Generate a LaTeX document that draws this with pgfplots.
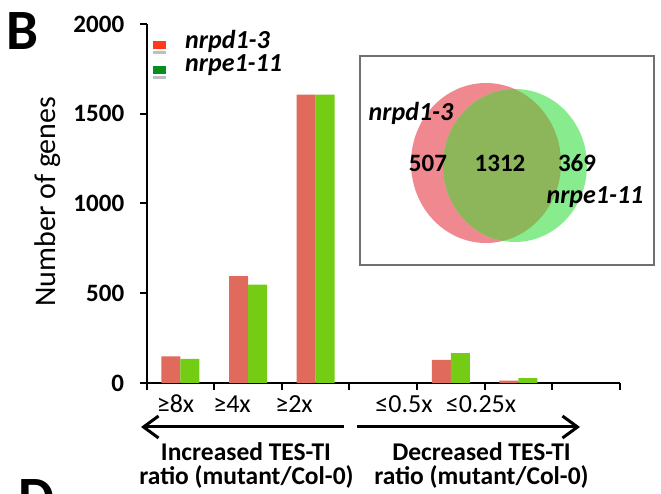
\documentclass[border=0pt]{standalone}
\usepackage{pgfplots}
\pgfplotsset{compat=1.18}
\usepackage{fontspec}
\setmainfont{Carlito}
\usetikzlibrary{arrows.meta}
\definecolor{barred}{HTML}{E06A5C}
\definecolor{bargreen}{HTML}{74CC14}
\definecolor{legred}{HTML}{FF3A1A}
\definecolor{leggreen}{HTML}{0A8C1E}
\definecolor{vennred}{HTML}{F0888F}
\definecolor{venngreen}{HTML}{88EC8F}
\definecolor{vennmix}{HTML}{8DB65A}
\definecolor{boxgray}{HTML}{707070}
\begin{document}
\begin{tikzpicture}[x=1pt,y=1pt]
\useasboundingbox (0,0) rectangle (661,494);
% main bar axis
\begin{axis}[
  at={(146.7pt,111pt)}, anchor=south west,
  scale only axis, width=473pt, height=359pt,
  xmin=-0.5, xmax=6.5, ymin=0, ymax=2000,
  axis lines*=left,
  axis line style={line width=2.2pt},
  xtick={-0.5,0.5,1.5,2.5,3.5,4.5,5.5,6.5},
  xticklabels={},
  ytick={0,500,1000,1500,2000},
  yticklabels={0,500,1000,1500,2000},
  tick align=outside,
  major tick length=7pt,
  every tick/.style={line width=2pt, black},
  /pgf/number format/assume math mode=true,
  yticklabel style={font=\fontsize{25}{25}\selectfont\bfseries, xshift=-12pt},
  ylabel={Number of genes},
  ylabel style={font=\fontsize{30}{30}\selectfont, at={(axis description cs:-0.2087,0.505)}, anchor=center},
  ybar=0pt, bar width=19pt,
  clip=false,
]
\addplot[fill=barred, draw=none] coordinates {(0,148) (1,596) (2,1606) (4,129) (5,13)};
\addplot[fill=bargreen, draw=none] coordinates {(0,135) (1,548) (2,1606) (4,167) (5,27)};
\end{axis}
% category labels
\begin{scope}[every node/.style={font=\fontsize{26}{26}\selectfont, anchor=base, inner sep=0pt}]
\node at (175.5,81) {≥8x};
\node at (232,81) {≥4x};
\node at (294,81) {≥2x};
\node at (404,81) {≤0.5x};
\node at (481,81) {≤0.25x};
\end{scope}
% arrows
\draw[line width=3pt, -{Straight Barb[length=15pt,width=22pt]}] (344,67) -- (141,67);
\draw[line width=3pt, -{Straight Barb[length=15pt,width=22pt]}] (356.7,67) -- (580,67);
% bottom text
\begin{scope}[every node/.style={font=\fontsize{25.5}{25.5}\selectfont\bfseries, anchor=base, inner sep=0pt, text height=16pt, text depth=2pt}]
\node at (246,33.5) {Increased TES-TI};
\node at (246.5,9.5) {ratio (mutant/Col-0)};
\node at (481.5,33.5) {Decreased TES-TI};
\node at (481.5,9.5) {ratio (mutant/Col-0)};
\end{scope}
% legend
\fill[black!25] (153,443) rectangle (166,440);
\fill[legred] (153,453) rectangle (166,445);
\fill[black!25] (153,418) rectangle (166,415);
\fill[leggreen] (153,428) rectangle (166,420);
\node[font=\fontsize{26}{26}\selectfont\bfseries\itshape, anchor=west, inner sep=0pt, text height=13pt, text depth=2pt] at (185,451) {nrpd1-3};
\node[font=\fontsize{26}{26}\selectfont\bfseries\itshape, anchor=west, inner sep=0pt, text height=13pt, text depth=2pt] at (185,428) {nrpe1-11};
% panel letters
\node[font=\fontsize{57}{57}\selectfont\bfseries, anchor=base west, inner sep=0pt] at (6,444) {B};
\begin{scope}
\clip (0,0) rectangle (661,494);
\node[font=\fontsize{57}{57}\selectfont\bfseries, anchor=base west, inner sep=0pt] at (18,-23) {D};
\end{scope}
% Venn inset
\begin{axis}[
  at={(360pt,229pt)}, anchor=south west,
  scale only axis, width=294pt, height=209pt,
  xmin=360, xmax=654, ymin=56, ymax=265, y dir=reverse,
  axis line style={line width=2pt, draw=boxgray},
  xtick=\empty, ytick=\empty,
  clip=false,
]
\fill[vennred] (axis cs:486,163) ellipse [x radius=75pt, y radius=80pt];
\fill[venngreen] (axis cs:515,165.5) ellipse [x radius=72pt, y radius=76.5pt];
\begin{scope}
\clip (axis cs:486,163) ellipse [x radius=75pt, y radius=80pt];
\fill[vennmix] (axis cs:515,165.5) ellipse [x radius=72pt, y radius=76.5pt];
\end{scope}
\node[font=\fontsize{26}{26}\selectfont\bfseries\itshape, inner sep=0pt] at (axis cs:411,113) {nrpd1-3};
\node[font=\fontsize{25}{25}\selectfont\bfseries, inner sep=0pt] at (axis cs:428,163) {507};
\node[font=\fontsize{25}{25}\selectfont\bfseries, inner sep=0pt] at (axis cs:500,163) {1312};
\node[font=\fontsize{25}{25}\selectfont\bfseries, inner sep=0pt] at (axis cs:577,163) {369};
\node[font=\fontsize{26}{26}\selectfont\bfseries\itshape, inner sep=0pt] at (axis cs:595,197) {nrpe1-11};
\end{axis}
\end{tikzpicture}
\end{document}
